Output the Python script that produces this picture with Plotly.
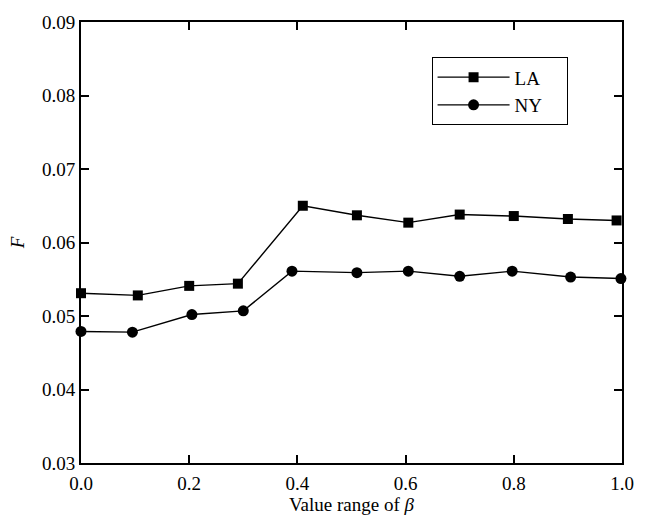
import plotly.graph_objects as go

beta_la = [0.0, 0.105, 0.2, 0.29, 0.41, 0.51, 0.605, 0.70, 0.80, 0.90, 0.99]
f_la = [0.0531, 0.0528, 0.0541, 0.0544, 0.0650, 0.0637, 0.0627, 0.0638, 0.0636, 0.0632, 0.0630]
beta_ny = [0.0, 0.095, 0.205, 0.30, 0.39, 0.51, 0.605, 0.70, 0.797, 0.905, 0.998]
f_ny = [0.0479, 0.0478, 0.0502, 0.0507, 0.0561, 0.0559, 0.0561, 0.0554, 0.0561, 0.0553, 0.0551]

series_names = ["LA", "NY"]

x_ticks = [0.0, 0.2, 0.4, 0.6, 0.8, 1.0]
x_tick_labels = ["0.0", "0.2", "0.4", "0.6", "0.8", "1.0"]
y_ticks = [0.03, 0.04, 0.05, 0.06, 0.07, 0.08, 0.09]
y_tick_labels = ["0.03", "0.04", "0.05", "0.06", "0.07", "0.08", "0.09"]

FONT = "Liberation Serif"
PAD = "\u00a0" * 4

fig = go.Figure()
fig.add_trace(go.Scatter(
    x=beta_la, y=f_la, name=series_names[0] + PAD, mode="lines+markers",
    line=dict(color="black", width=1.4),
    marker=dict(symbol="square", size=10, color="black"),
    cliponaxis=False,
))
fig.add_trace(go.Scatter(
    x=beta_ny, y=f_ny, name=series_names[1] + PAD, mode="lines+markers",
    line=dict(color="black", width=1.4),
    marker=dict(symbol="circle", size=11, color="black"),
    cliponaxis=False,
))

axis_common = dict(
    showline=True, linecolor="black", linewidth=2, mirror="ticks",
    ticks="inside", ticklen=8, tickwidth=1.5, tickcolor="black",
    showgrid=False, zeroline=False,
    tickfont=dict(family=FONT, size=19, color="black"),
)

fig.update_layout(
    width=646, height=521,
    margin=dict(l=81, r=17, t=21, b=56),
    paper_bgcolor="white", plot_bgcolor="white",
    font=dict(family=FONT, color="black"),
    showlegend=True,
    legend=dict(
        x=0.648, y=0.92, xanchor="left", yanchor="top",
        bordercolor="black", borderwidth=1, bgcolor="white",
        font=dict(family=FONT, size=19, color="black"),
        itemwidth=72, tracegroupgap=0,
    ),
    xaxis=dict(
        range=[0, 1], tickvals=x_ticks, ticktext=x_tick_labels,
        ticklabelstandoff=2,
        title=dict(text="Value range of <i>β</i>", font=dict(family=FONT, size=19, color="black"), standoff=2),
        **axis_common,
    ),
    yaxis=dict(
        range=[0.03, 0.09], tickvals=y_ticks, ticktext=y_tick_labels,
        title=dict(text="<i>F</i>", font=dict(family=FONT, size=19, color="black"), standoff=12),
        **axis_common,
    ),
)

fig.write_html("out.html")
